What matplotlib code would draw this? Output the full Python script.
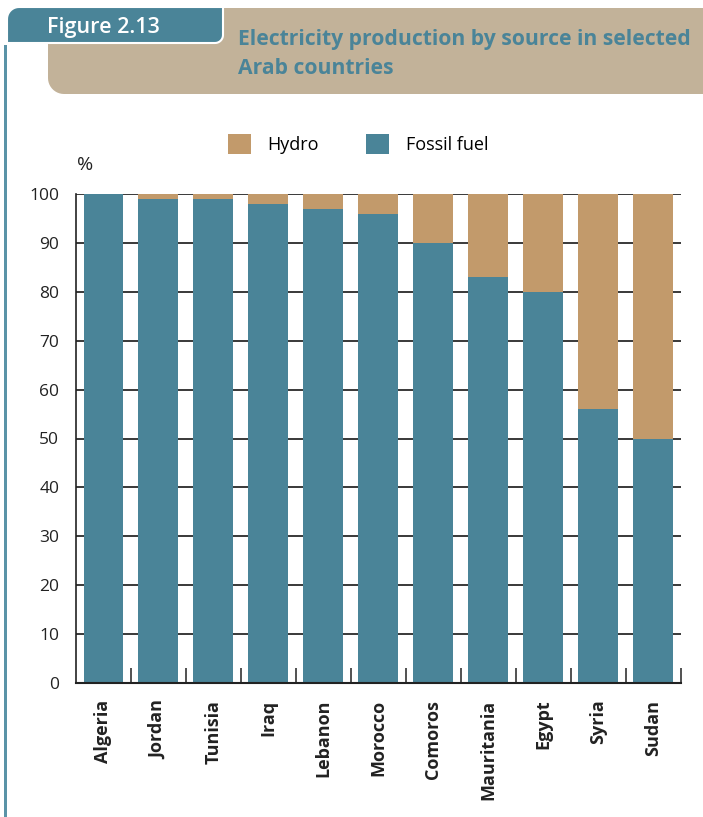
import matplotlib.pyplot as plt
from matplotlib.patches import Polygon, Rectangle
from matplotlib.transforms import Affine2D
import numpy as np

countries = ["Algeria", "Jordan", "Tunisia", "Iraq", "Lebanon", "Morocco",
             "Comoros", "Mauritania", "Egypt", "Syria", "Sudan"]
fossil = [100, 99, 99, 98, 97, 96, 90, 83, 80, 56, 50]
hydro = [0, 1, 1, 2, 3, 4, 10, 17, 20, 44, 50]
yticks = [0, 10, 20, 30, 40, 50, 60, 70, 80, 90, 100]

TEAL = "#4a8498"
TAN = "#c29a6b"
BEIGE = "#c2b299"

plt.rcParams['font.family'] = ['Open Sans', 'DejaVu Sans']

fig = plt.figure(figsize=(7.03, 8.17), dpi=100)
W, H = 703, 817
# pixel coordinates (origin top-left) -> figure
pix = Affine2D().scale(1 / W, -1 / H).translate(0, 1) + fig.transFigure


def px(x, y):
    return x / W, 1 - y / H


def rounded_box(x0, y0, x1, y1, r_tl=0, r_tr=0, r_br=0, r_bl=0):
    # corners in pixel coords, y downwards
    pts = []
    def corner(cx, cy, r, a0, a1):
        if r == 0:
            pts.append((cx, cy))
            return
        ang = np.radians(np.linspace(a0, a1, 12))
        ox = cx + (r if cx == x0 else -r)
        oy = cy + (r if cy == y0 else -r)
        for a in ang:
            pts.append((ox + r * np.cos(a), oy - r * np.sin(a)))
    corner(x0, y0, r_tl, 180, 90)
    corner(x1, y0, r_tr, 90, 0)
    corner(x1, y1, r_br, 0, -90)
    corner(x0, y1, r_bl, -90, -180)
    return pts


# ---- header ----
fig.patches.append(Polygon(rounded_box(48, 8, 720, 94, r_bl=16),
                           closed=True, transform=pix, facecolor=BEIGE,
                           edgecolor="none"))
fig.patches.append(Polygon(rounded_box(7, 7, 223, 43, r_tl=12, r_br=8),
                           closed=True, transform=pix, facecolor=TEAL,
                           edgecolor="white", linewidth=1.5))
fig.patches.append(Rectangle((4, 45), 3, 780, transform=pix,
                             facecolor="#5a93a7", edgecolor="none"))

fig.text(*px(47, 27), "Figure 2.13", color="white", fontsize=15.5,
         fontweight="semibold", va="center", ha="left")
fig.text(*px(238, 40), "Electricity production by source in selected",
         color=TEAL, fontsize=15.2, fontweight="bold", va="center", ha="left")
fig.text(*px(238, 68), "Arab countries",
         color=TEAL, fontsize=15.2, fontweight="bold", va="center", ha="left")

# ---- chart ----
ax = fig.add_axes([76 / W, 1 - 683 / H, (680.5 - 76) / W, (683 - 194) / H])
x = np.arange(len(countries))
ax.bar(x, fossil, width=0.727, color=TEAL, label="Fossil fuel", zorder=2)
ax.bar(x, hydro, width=0.727, bottom=fossil, color=TAN, label="Hydro", zorder=2)

ax.set_xlim(-0.5, len(countries) - 0.5)
ax.set_ylim(0, 100)
ax.set_yticks(yticks)
ax.set_yticklabels([str(v) for v in yticks], fontsize=12.5, color="#222222")
ax.tick_params(axis="y", length=0, pad=12)
for v in yticks[1:]:
    ax.axhline(v, color="#2a2a2a", linewidth=1.3, zorder=1)

ax.set_xticks(x)
ax.set_xticklabels(countries, rotation=90, fontsize=13, fontweight="bold",
                   color="#222222")
ax.tick_params(axis="x", length=0, pad=12)
ax.set_xticks(np.arange(len(countries)) + 0.5, minor=True)
ax.tick_params(axis="x", which="minor", direction="in", length=11,
               width=1.2, color="#333333")

for s in ["top", "right"]:
    ax.spines[s].set_visible(False)
ax.spines["left"].set_linewidth(1.2)
ax.spines["bottom"].set_linewidth(1.5)
ax.spines["left"].set_color("#222222")
ax.spines["bottom"].set_color("#222222")

fig.text(*px(85, 165), "%", fontsize=14, color="#222222", ha="center",
         va="center")

# legend
handles, labels = ax.get_legend_handles_labels()
fig.legend(handles[::-1], labels[::-1], loc="center", ncol=2,
           bbox_to_anchor=px(358, 144), frameon=False, fontsize=13,
           handlelength=1.3, handleheight=1.3, handletextpad=0.9,
           columnspacing=2.6)

fig.savefig("out.png", dpi=100)
